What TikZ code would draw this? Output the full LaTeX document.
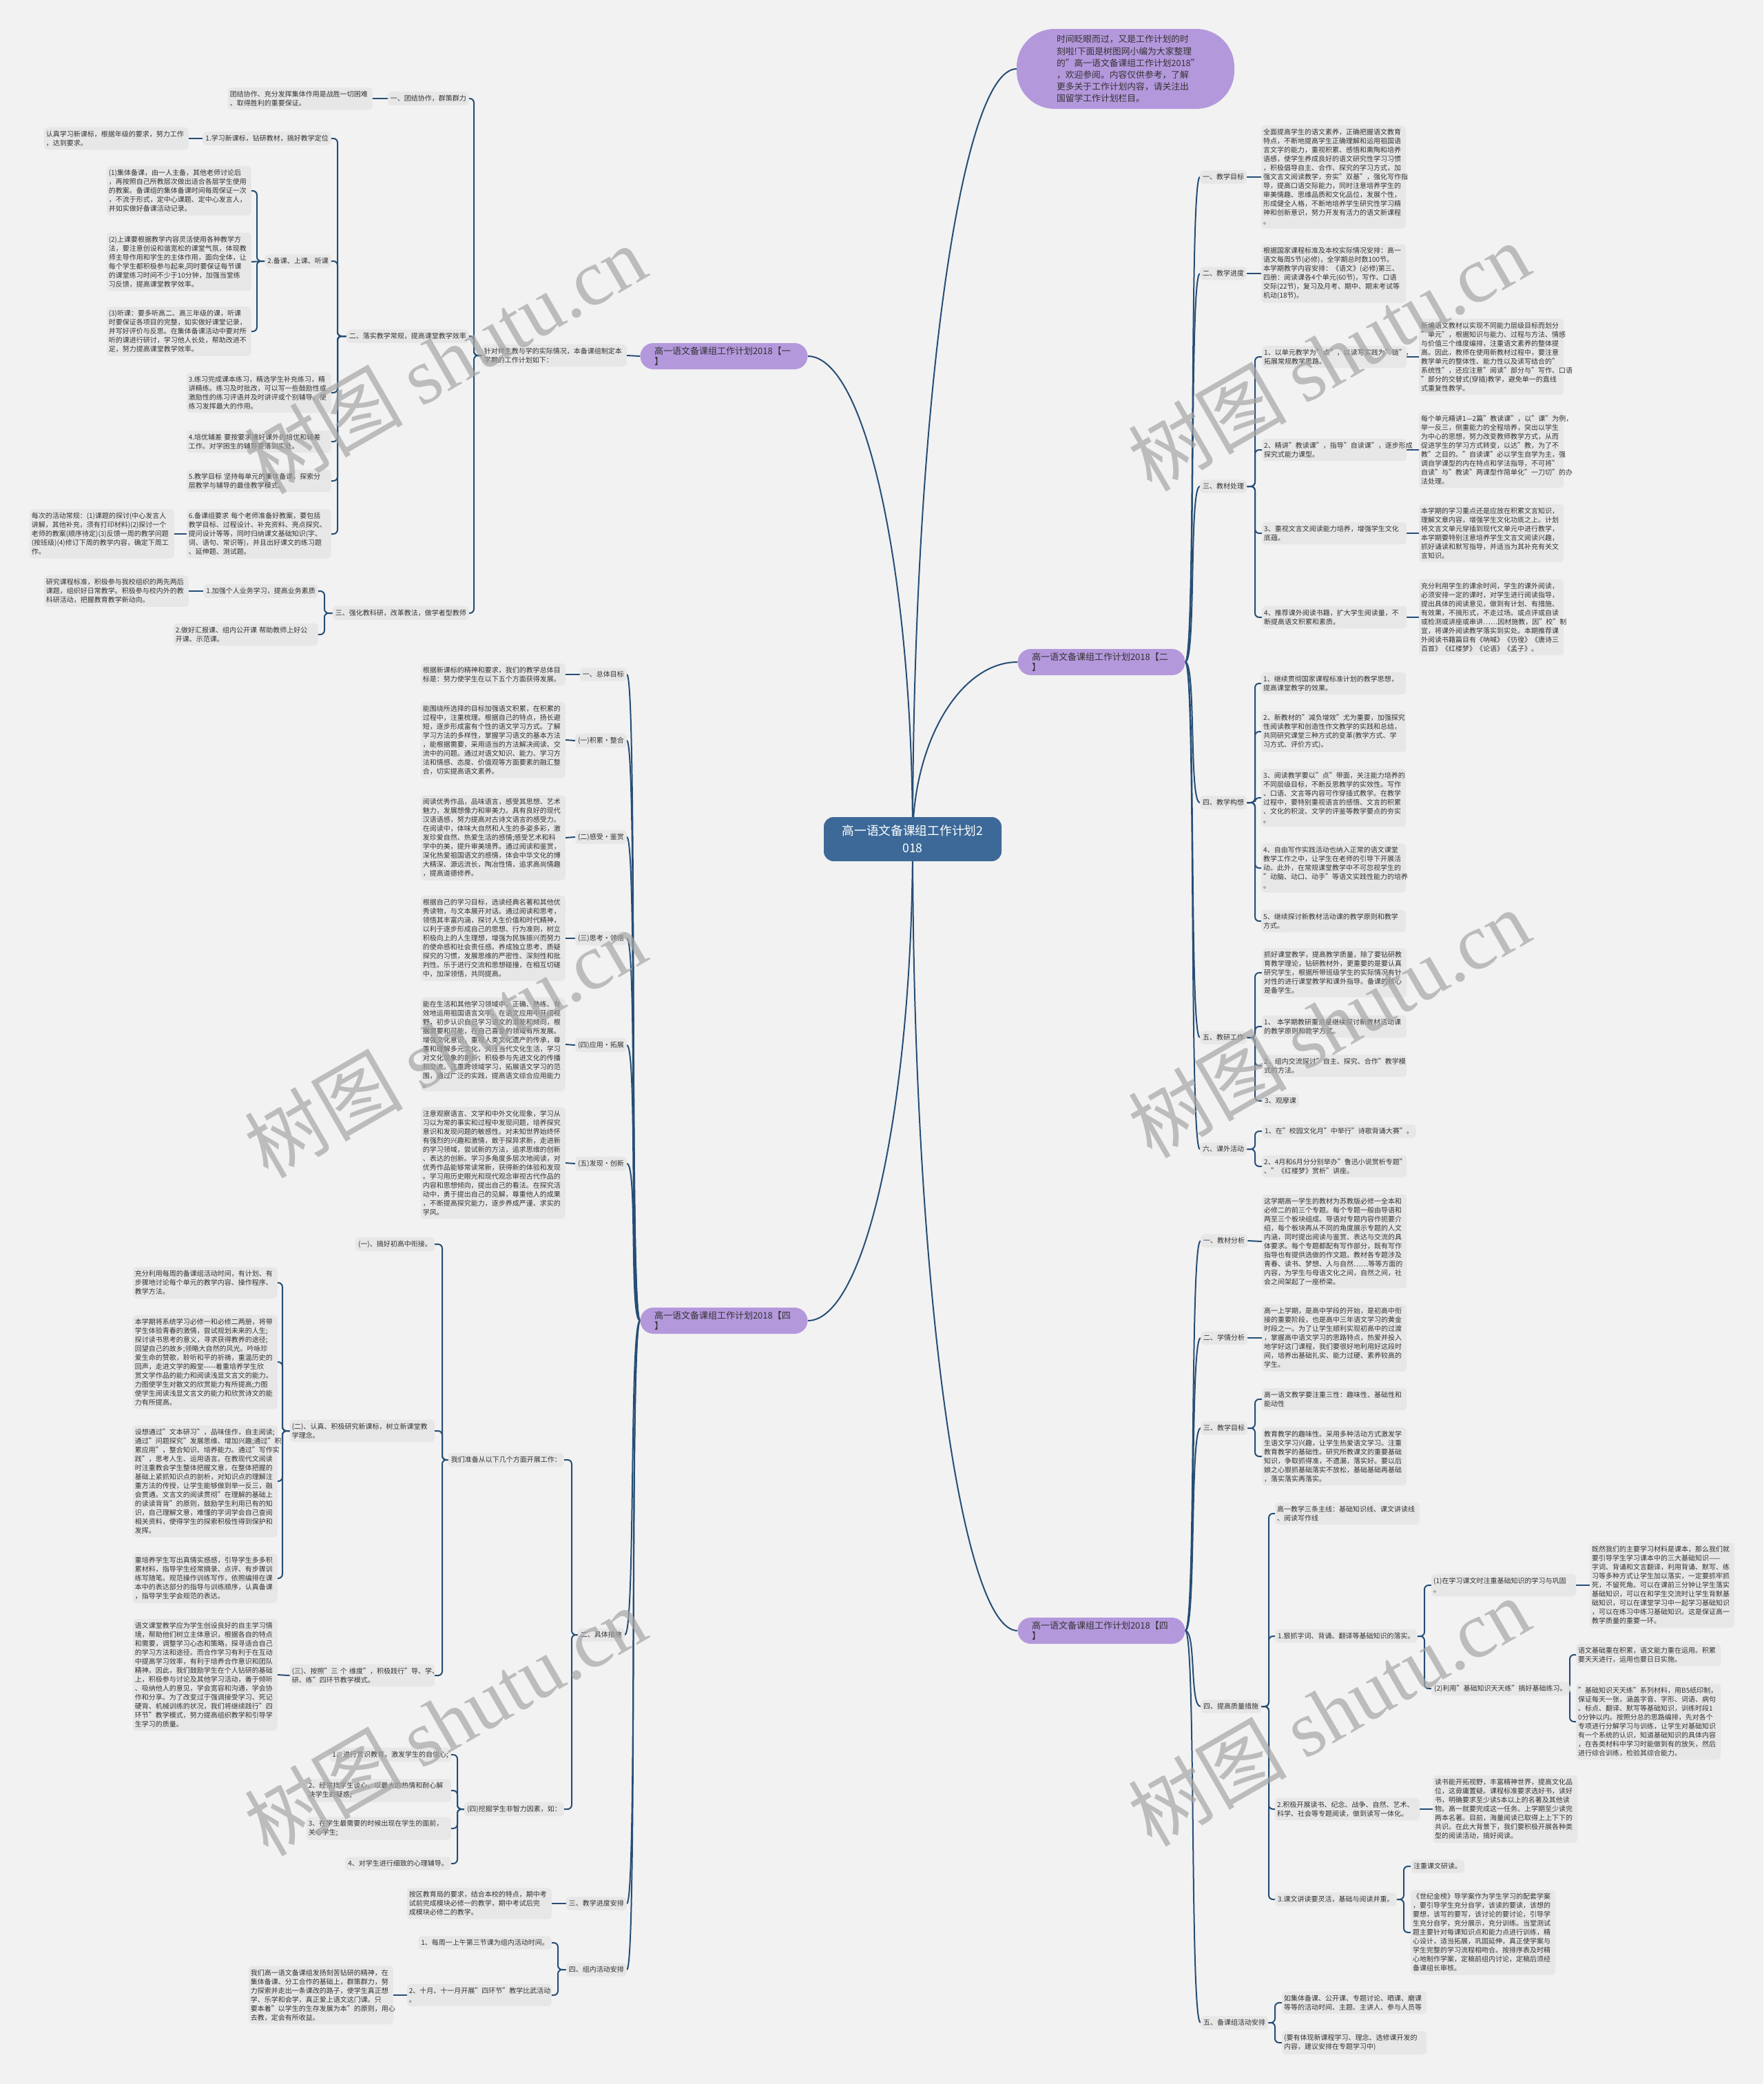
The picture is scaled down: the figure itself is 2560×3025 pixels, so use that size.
\documentclass[tikz,border=0pt]{standalone}
\usepackage{fontspec}
\setmainfont{Noto Sans CJK SC}
\newfontfamily\wmserif{Liberation Serif}
\definecolor{bgc}{RGB}{242,242,242}
\definecolor{boxc}{RGB}{231,231,231}
\definecolor{linec}{RGB}{38,78,118}
\definecolor{purpc}{RGB}{180,152,220}
\definecolor{ctrc}{RGB}{60,105,152}
\definecolor{txt}{RGB}{51,51,51}
\pgfdeclarelayer{back}\pgfdeclarelayer{bg}\pgfsetlayers{back,bg,main}
\newcommand\fs{\fontsize{10pt}{13pt}\selectfont}
\tikzset{
 tbox/.style={fill=boxc, rounded corners=5pt, inner xsep=3pt, inner ysep=5pt, font=\fs, text=txt},
 lab/.style={tbox, inner xsep=4pt},
 leaf/.style={tbox, text width=204pt, align=left},
 lft/.style={anchor=east}, rgt/.style={anchor=west},
 conn/.style={draw=linec, line width=2pt, rounded corners=6pt},
 purpnode/.style={fill=purpc, rounded corners=19pt, text width=202pt, align=left, minimum width=243pt, minimum height=38pt, inner xsep=20.5pt, inner ysep=4pt, font=\fontsize{13pt}{15.5pt}\selectfont, text=txt},
 wm/.style={rotate=30, text=black!35, text opacity=0.7, font=\fontsize{115pt}{120pt}\selectfont},
}
\newcommand\EL[3]{\draw[conn] (#1.west) -- (#1.west -| #3) |- (#2.east);}
\newcommand\ER[3]{\draw[conn] (#1.east) -- (#1.east -| #3) |- (#2.west);}
\newcommand\HL[2]{\draw[conn] (#1.west) -- (#2.east);}
\newcommand\HR[2]{\draw[conn] (#1.east) -- (#2.west);}
\newcommand\CL[2]{\draw[conn] (#1.west) .. controls +(-16,0) and +(16,0) .. (#2.east);}
\newcommand\CR[2]{\draw[conn] (#1.east) .. controls +(16,0) and +(-16,0) .. (#2.west);}
\begin{document}
\begin{tikzpicture}[x=1pt,y=-1pt]
\path[use as bounding box] (0,0) rectangle (2560,3025);
\begin{pgfonlayer}{back}
\fill[bgc] (0,0) rectangle (2560,3025);
\end{pgfonlayer}
% ---------- center and intro
\node[fill=ctrc, rounded corners=14pt, minimum width=258pt, minimum height=64pt, align=center, text=white, font=\fontsize{17.7pt}{25pt}\selectfont] (ctr) at (1325,1218) {高一语文备课组工作计划2\\018};
\node[fill=purpc, rounded corners=55pt, minimum width=316pt, minimum height=116pt, text width=200pt, align=left, text=txt, font=\fontsize{12.8pt}{17.2pt}\selectfont] (intro) at (1634,100) {时间眨眼而过，又是工作计划的时\\刻啦!下面是树图网小编为大家整理\\的"高一语文备课组工作计划2018"\\，欢迎参阅。内容仅供参考，了解\\更多关于工作计划内容，请关注出\\国留学工作计划栏目。};
\node[purpnode] (b1) at (1051,517) {高一语文备课组工作计划2018【一\\】};
\node[purpnode] (b2) at (1599,961) {高一语文备课组工作计划2018【二\\】};
\node[purpnode] (b4l) at (1051,1917) {高一语文备课组工作计划2018【四\\】};
\node[purpnode] (b4r) at (1599,2367) {高一语文备课组工作计划2018【四\\】};
% ---------- branch 1 (left top)
\coordinate (T1) at (688,0);\coordinate (T1b) at (490,0);\coordinate (T1c) at (373,0);\coordinate (T1d) at (471,0);
\node[leaf,lft] (n1) at (910,516) {针对师生教与学的实际情况，本备课组制定本\\学期的工作计划如下：};
\node[lab,lft] (c1) at (681,143) {一、团结协作，群策群力};
\node[leaf,lft] (a1) at (541,143) {团结协作、充分发挥集体作用是战胜一切困难\\、取得胜利的重要保证。};
\node[lab,lft] (c2) at (681,488) {二、落实教学常规，提高课堂教学效率};
\node[lab,lft] (s1) at (481,201) {1.学习新课标，钻研教材，搞好教学定位};
\node[leaf,lft] (s1a) at (274,201) {认真学习新课标，根据年级的要求，努力工作\\，达到要求。};
\node[lab,lft] (s2) at (481,379) {2.备课、上课、听课};
\node[leaf,lft] (s2a) at (365,277) {(1)集体备课，由一人主备，其他老师讨论后\\，再按照自己所教层次做出适合各层学生使用\\的教案。备课组的集体备课时间每周保证一次\\，不流于形式，定中心课题、定中心发言人，\\并如实做好备课活动记录。};
\node[leaf,lft] (s2b) at (365,380) {(2)上课要根据教学内容灵活使用各种教学方\\法，要注意创设和谐宽松的课堂气氛，体现教\\师主导作用和学生的主体作用，面向全体，让\\每个学生都积极参与起来,同时要保证每节课\\的课堂练习时间不少于10分钟，加强当堂练\\习反馈，提高课堂教学效率。};
\node[leaf,lft] (s2c) at (365,481) {(3)听课：要多听高二、高三年级的课，听课\\时要保证各项目的完整，如实做好课堂记录，\\并写好评价与反思。在集体备课活动中要对所\\听的课进行研讨，学习他人长处，帮助改进不\\足，努力提高课堂教学效率。};
\node[leaf,lft] (s3) at (481,570) {3.练习完成课本练习，精选学生补充练习，精\\讲精练。练习及时批改，可以写一些鼓励性或\\激励性的练习评语并及时讲评或个别辅导，使\\练习发挥最大的作用。};
\node[leaf,lft] (s4) at (481,641) {4.培优辅差~要按要求搞好课外的培优和辅差\\工作。对学困生的辅导要落到实处。};
\node[leaf,lft] (s5) at (481,698) {5.教学目标~坚持每单元的集体备课，探索分\\层教学与辅导的最佳教学模式。};
\node[leaf,lft] (s6) at (481,775) {6.备课组要求~每个老师准备好教案，要包括\\教学目标、过程设计、补充资料、亮点探究、\\提问设计等等，同时归纳课文基础知识(字、\\词、语句、常识等)，并且出好课文的练习题\\、延伸题、测试题。};
\node[leaf,lft] (s6a) at (253,775) {每次的活动常规：(1)课题的探讨(中心发言人\\讲解，其他补充，须有打印材料)(2)探讨一个\\老师的教案(顺序待定)(3)反馈一周的教学问题\\(按班级)(4)修订下周的教学内容，确定下周工\\作。};
\node[lab,lft] (c3) at (681,890) {三、强化教科研，改革教法，做学者型教师};
\node[lab,lft] (t1) at (462,858) {1.加强个人业务学习，提高业务素质};
\node[leaf,lft] (t1a) at (274,858) {研究课程标准，积极参与我校组织的两先两后\\课题，组织好日常教学。积极参与校内外的教\\科研活动，把握教育教学新动向。};
\node[leaf,lft] (t2) at (462,921) {2.做好汇报课、组内公开课~帮助教师上好公\\开课、示范课。};
% ---------- branch 2 (right top)
\coordinate (X2) at (1822,0);
\node[lab,rgt] (d1) at (1742,257) {一、教学目标};
\node[leaf,rgt] (d1a) at (1831,257) {全面提高学生的语文素养，正确把握语文教育\\特点，不断地提高学生正确理解和运用祖国语\\言文字的能力，重视积累、感悟和熏陶和培养\\语感，使学生养成良好的语文研究性学习习惯\\，积极倡导自主、合作、探究的学习方式，加\\强文言文阅读教学，夯实"双基"，强化写作指\\导，提高口语交际能力，同时注意培养学生的\\审美情趣、思维品质和文化品位，发展个性，\\形成健全人格，不断地培养学生研究性学习精\\神和创新意识，努力开发有活力的语文新课程\\。};
\node[lab,rgt] (d2) at (1742,397) {二、教学进度};
\node[leaf,rgt] (d2a) at (1831,397) {根据国家课程标准及本校实际情况安排：高一\\语文每周5节(必修)，全学期总时数100节。\\本学期教学内容安排：《语文》(必修)第三、\\四册：阅读课各4个单元(60节)，写作、口语\\交际(22节)，复习及月考、期中、期末考试等\\机动(18节)。};
\node[lab,rgt] (d3) at (1742,706) {三、教材处理};
\node[leaf,rgt] (e1) at (1832,518) {1、以单元教学为"点"，以读写实践为"链"，\\拓展常规教学思路。};
\node[leaf,rgt] (e1a) at (2060,518) {新编语文教材以实现不同能力层级目标而划分\\"单元"，根据知识与能力、过程与方法、情感\\与价值三个维度编排，注重语文素养的整体提\\高。因此，教师在使用新教材过程中，要注意\\教学单元的整体性、能力性以及读写结合的"\\系统性"，还应注意"阅读"部分与"写作、口语\\"部分的交替式(穿插)教学，避免单一的直线\\式重复性教学。};
\node[leaf,rgt] (e2) at (1832,653) {2、精讲"教读课"，指导"自读课"，逐步形成\\探究式能力课型。};
\node[leaf,rgt] (e2a) at (2060,653) {\mbox{每个单元精讲1—2篇"教读课"，以"课"为例，}\\举一反三，侧重能力的全程培养，突出以学生\\为中心的思想，努力改变教师教学方式，从而\\促进学生的学习方式转变，以达"教，为了不\\教"之目的。"自读课"必以学生自学为主，强\\调自学课型的内在特点和学法指导，不可将"\\自读"与"教读"两课型作简单化"一刀切"的办\\法处理。};
\node[leaf,rgt] (e3) at (1832,774) {3、重视文言文阅读能力培养，增强学生文化\\底蕴。};
\node[leaf,rgt] (e3a) at (2060,774) {本学期的学习重点还是应放在积累文言知识，\\理解文章内容，增强学生文化功底之上。计划\\将文言文单元穿插到现代文单元中进行教学，\\本学期要特别注意培养学生文言文阅读兴趣，\\抓好诵读和默写指导，并适当为其补充有关文\\言知识。};
\node[leaf,rgt] (e4) at (1832,896) {4、推荐课外阅读书籍，扩大学生阅读量，不\\断提高语文积累和素质。};
\node[leaf,rgt] (e4a) at (2060,896) {充分利用学生的课余时间，学生的课外阅读，\\必须安排一定的课时，对学生进行阅读指导，\\提出具体的阅读意见，做到有计划、有措施、\\有效果，不搞形式，不走过场。或点评或自读\\或检测或讲座或串讲……因材施教，因"校"制\\宜，将课外阅读教学落实到实处。本期推荐课\\外阅读书籍篇目有《呐喊》《彷徨》《唐诗三\\百首》《红楼梦》《论语》《孟子》。};
\node[lab,rgt] (d4) at (1742,1165) {四、教学构想};
\node[leaf,rgt] (f1) at (1831,992) {1、继续贯彻国家课程标准计划的教学思想，\\提高课堂教学的效果。};
\node[leaf,rgt] (f2) at (1831,1062) {2、新教材的"减负增效"尤为重要，加强探究\\性阅读教学和创造性作文教学的实践和总结，\\共同研究课堂三种方式的变革(教学方式、学\\习方式、评价方式)。};
\node[leaf,rgt] (f3) at (1831,1158) {3、阅读教学要以"点"带面，关注能力培养的\\不同层级目标，不断反思教学的实效性。写作\\、口语、文言等内容可作穿插式教学。在教学\\过程中，要特别重视语言的感悟、文言的积累\\、文化的积淀、文学的评鉴等教学要点的夯实\\。};
\node[leaf,rgt] (f4) at (1831,1260) {4、自由写作实践活动也纳入正常的语文课堂\\教学工作之中，让学生在老师的引导下开展活\\动。此外，在常规课堂教学中不可忽视学生的\\"动脑、动口、动手"等语文实践性能力的培养\\。};
\node[leaf,rgt] (f5) at (1831,1337) {5、继续探讨新教材活动课的教学原则和教学\\方式。};
\node[lab,rgt] (d5) at (1742,1506) {五、教研工作};
\node[leaf,rgt] (g0) at (1832,1412) {抓好课堂教学，提高教学质量，除了要钻研教\\育教学理论，钻研教材外，更重要的是要认真\\研究学生，根据所带班级学生的实际情况有针\\对性的进行课堂教学和课外指导。备课的核心\\是备学生。};
\node[leaf,rgt] (g1) at (1832,1490) {1、~本学期教研重点是继续探讨新教材活动课\\的教学原则和教学方式。};
\node[leaf,rgt] (g2) at (1832,1547) {2、组内交流探讨"自主、探究、合作"教学模\\式的方法。};
\node[lab,rgt] (g3) at (1832,1598) {3、观摩课};
\node[lab,rgt] (d6) at (1742,1668) {六、课外活动};
\node[lab,rgt] (h1) at (1832,1642) {1、在"校园文化月"中举行"诗歌背诵大赛"。};
\node[leaf,rgt] (h2) at (1832,1693) {2、4月和6月分分别举办"鲁迅小说赏析专题"\\、"《红楼梦》赏析"讲座。};
% ---------- branch 4 (right bottom)
\coordinate (X4b) at (1842,0);\coordinate (X4c) at (2068,0);\coordinate (X4d) at (2279,0);\coordinate (X4e) at (2038,0);\coordinate (X4f) at (1851,0);
\node[lab,rgt] (k1) at (1743,1801) {一、教材分析};
\node[leaf,rgt] (k1a) at (1832,1802) {这学期高一学生的教材为苏教版必修一全本和\\必修二的前三个专题。每个专题一般由导语和\\两至三个板块组成。导语对专题内容作扼要介\\绍，每个板块再从不同的角度展示专题的人文\\内涵，同时提出阅读与鉴赏、表达与交流的具\\体要求。每个专题都配有写作部分，既有写作\\指导也有提供选做的作文题。教材各专题涉及\\青春、读书、梦想、人与自然……等等方面的\\内容，为学生与母语文化之间，自然之间，社\\会之间架起了一座桥梁。};
\node[lab,rgt] (k2) at (1743,1942) {二、学情分析};
\node[leaf,rgt] (k2a) at (1832,1942) {高一上学期，是高中学段的开始，是初高中衔\\接的重要阶段，也是高中三年语文学习的黄金\\时段之一。为了让学生顺利实现初高中的过渡\\，掌握高中语文学习的思路特点，热爱并投入\\地学好这门课程，我们要很好地利用好这段时\\间，培养出基础扎实、能力过硬、素养较高的\\学生。};
\node[lab,rgt] (k3) at (1743,2073) {三、教学目标};
\node[leaf,rgt] (k3a) at (1832,2031) {高一语文教学要注重三性：趣味性、基础性和\\能动性};
\node[leaf,rgt] (k3b) at (1832,2114) {教育教学的趣味性。采用多种活动方式激发学\\生语文学习兴趣，让学生热爱语文学习。注重\\教育教学的基础性。研究所教课文的重要基础\\知识，争取抓得准，不遗漏，落实好。要以后\\娘之心狠抓基础落实不放松，基础基础再基础\\，落实落实再落实。};
\node[lab,rgt] (k4) at (1743,2477) {四、提高质量措施};
\node[leaf,rgt] (m0) at (1851,2197) {高一教学三条主线：基础知识线、课文讲读线\\、阅读写作线};
\node[lab,rgt] (m1) at (1851,2375) {1.狠抓字词、背诵、翻译等基础知识的落实。};
\node[leaf,rgt] (m1a) at (2078,2301) {(1)在学习课文时注重基础知识的学习与巩固\\。};
\node[leaf,rgt] (m1aa) at (2308,2301) {既然我们的主要学习材料是课本，那么我们就\\\mbox{要引导学生学习课本中的三大基础知识——}\\字词、背诵和文言翻译，利用背诵、默写、练\\习等多种方式让学生加以落实，一定要抓牢抓\\死，不留死角。可以在课前三分钟让学生落实\\基础知识，可以在和学生交流时让学生背默基\\础知识，可以在课堂学习中一起学习基础知识\\，可以在练习中练习基础知识。这是保证高一\\教学质量的重要一环。};
\node[lab,rgt] (m1b) at (2078,2451) {(2)利用"基础知识天天练"搞好基础练习。};
\node[leaf,rgt] (m1ba) at (2288,2402) {语文基础重在积累，语文能力重在运用。积累\\要天天进行，运用也要日日实施。};
\node[leaf,rgt] (m1bb) at (2288,2499) {"基础知识天天练"系列材料，用B5纸印制，\\保证每天一张，涵盖字音、字形、词语、病句\\、标点、翻译、默写等基础知识，训练时段1\\0分钟以内。按照分总的思路编排，先对各个\\专项进行分解学习与训练，让学生对基础知识\\有一个系统的认识，知道基础知识的具体内容\\，在各类材料中学习时能做到有的放矢，然后\\进行综合训练，检验其综合能力。};
\node[leaf,rgt] (m2) at (1851,2626) {2.积极开展读书、纪念、战争、自然、艺术、\\科学、社会等专题阅读，做到读写一体化。};
\node[leaf,rgt] (m2a) at (2080,2626) {读书能开拓视野，丰富精神世界，提高文化品\\位，这毋庸置疑。课程标准要求选好书，读好\\书，明确要求至少读5本以上的名著及其他读\\物。高一就要完成这一任务。上学期至少读完\\两本名著。目前，海量阅读已取得上上下下的\\共识。在此大背景下，我们要积极开展各种类\\型的阅读活动，搞好阅读。};
\node[lab,rgt] (m3) at (1851,2757) {3.课文讲读要灵活，基础与阅读并重。};
\node[lab,rgt] (m3a) at (2048,2709) {注重课文研读。};
\node[leaf,rgt] (m3b) at (2048,2805) {《世纪金榜》导学案作为学生学习的配套学案\\，要引导学生充分自学，该读的要读，该想的\\要想，该写的要写，该讨论的要讨论，引导学\\生充分自学，充分展示，充分训练。当堂测试\\题主要针对每课知识点和能力点进行训练，精\\心设计，适当拓展，巩固延伸，真正使学案与\\学生完整的学习流程相吻合。按排序表及时精\\心地制作学案，定稿前组内讨论，定稿后须经\\备课组长审核。};
\node[lab,rgt] (k5) at (1743,2936) {五、备课组活动安排};
\node[leaf,rgt] (p1) at (1861,2907) {如集体备课、公开课、专题讨论、晒课、磨课\\等等的活动时间、主题、主讲人、参与人员等};
\node[leaf,rgt] (p2) at (1861,2965) {(要有体现新课程学习、理念、选修课开发的\\内容，建议安排在专题学习中)};
% ---------- branch 4 (left bottom)
\coordinate (Y5a) at (830,0);\coordinate (Y5b) at (642,0);\coordinate (Y5c) at (410,0);\coordinate (Y5d) at (664,0);\coordinate (Y5e) at (810,0);
\node[lab,lft] (q1) at (910,979) {一、总体目标};
\node[leaf,lft] (q1a) at (821,979) {根据新课标的精神和要求，我们的教学总体目\\标是：努力使学生在以下五个方面获得发展。};
\node[lab,lft] (q2) at (910,1075) {(一)积累·整合};
\node[leaf,lft] (q2a) at (821,1074) {能围绕所选择的目标加强语文积累，在积累的\\过程中，注重梳理。根据自己的特点，扬长避\\短，逐步形成富有个性的语文学习方式。了解\\学习方法的多样性，掌握学习语文的基本方法\\，能根据需要，采用适当的方法解决阅读、交\\流中的问题。通过对语文知识、能力、学习方\\法和情感、态度、价值观等方面要素的融汇整\\合，切实提高语文素养。};
\node[lab,lft] (q3) at (910,1215) {(二)感受·鉴赏};
\node[leaf,lft] (q3a) at (821,1216) {阅读优秀作品，品味语言，感受其思想、艺术\\魅力，发展想像力和审美力。具有良好的现代\\汉语语感，努力提高对古诗文语言的感受力。\\在阅读中，体味大自然和人生的多姿多彩，激\\发珍爱自然、热爱生活的感情;感受艺术和科\\学中的美，提升审美境界。通过阅读和鉴赏，\\深化热爱祖国语文的感情，体会中华文化的博\\大精深、源远流长，陶冶性情，追求高尚情趣\\，提高道德修养。};
\node[lab,lft] (q4) at (910,1362) {(三)思考·领悟};
\node[leaf,lft] (q4a) at (821,1362) {根据自己的学习目标，选读经典名著和其他优\\秀读物，与文本展开对话。通过阅读和思考，\\领悟其丰富内涵，探讨人生价值和时代精神，\\以利于逐步形成自己的思想、行为准则，树立\\积极向上的人生理想，增强为民族振兴而努力\\的使命感和社会责任感。养成独立思考、质疑\\探究的习惯，发展思维的严密性、深刻性和批\\判性。乐于进行交流和思想碰撞，在相互切磋\\中，加深领悟，共同提高。};
\node[lab,lft] (q5) at (910,1517) {(四)应用·拓展};
\node[leaf,lft] (q5a) at (821,1516) {能在生活和其他学习领域中，正确、熟练、有\\效地运用祖国语言文字。在语文应用中开阔视\\野，初步认识自己学习语文的潜能和倾向，根\\据需要和可能，在自己喜爱的领域有所发展。\\增强文化意识，重视人类文化遗产的传承，尊\\重和理解多元文化，关注当代文化生活，学习\\对文化现象的剖析，积极参与先进文化的传播\\和交流。注重跨领域学习，拓展语文学习的范\\围，通过广泛的实践，提高语文综合应用能力\\。};
\node[lab,lft] (q6) at (910,1689) {(五)发现·创新};
\node[leaf,lft] (q6a) at (821,1688) {注意观察语言、文学和中外文化现象，学习从\\习以为常的事实和过程中发现问题，培养探究\\意识和发现问题的敏感性。对未知世界始终怀\\有强烈的兴趣和激情，敢于探异求新，走进新\\的学习领域，尝试新的方法，追求思维的创新\\、表达的创新。学习多角度多层次地阅读，对\\优秀作品能够常读常新，获得新的体验和发现\\。学习用历史眼光和现代观念审视古代作品的\\内容和思想倾向，提出自己的看法。在探究活\\动中，勇于提出自己的见解，尊重他人的成果\\，不断提高探究能力，逐步养成严谨、求实的\\学风。};
\node[lab,lft] (q7) at (907,2373) {二、具体措施};
\node[lab,lft] (r1) at (819,2119) {我们准备从以下几个方面开展工作：};
\node[lab,lft] (r1a) at (631,1806) {(一)、搞好初高中衔接。};
\node[leaf,lft] (r1b) at (631,2077) {(二)、认真、积极研究新课标，树立新课堂教\\学理念。};
\node[leaf,lft] (v1) at (403,1862) {充分利用每周的备课组活动时间，有计划、有\\步骤地讨论每个单元的教学内容、操作程序、\\教学方法。};
\node[leaf,lft] (v2) at (403,1977) {本学期将系统学习必修一和必修二两册，将带\\学生体验青春的激情，尝试规划未来的人生;\\探讨读书思考的意义，寻求获得教养的途径;\\回望自己的故乡;领略大自然的风光。吟咏珍\\爱生命的赞歌，聆听和平的祈祷，重温历史的\\\mbox{回声，走进文学的殿堂-{}-{}-{}-{}-着重培养学生欣}\\赏文学作品的能力和阅读浅显文言文的能力。\\力图使学生对散文的欣赏能力有所提高;力图\\使学生阅读浅显文言文的能力和欣赏诗文的能\\力有所提高。};
\node[leaf,lft] (v3) at (403,2150) {设想通过"文本研习"，品味佳作，自主阅读;\\通过"问题探究"发展思维、增加兴趣;通过"积\\累应用"，整合知识、培养能力。通过"写作实\\践"，思考人生、运用语言。在教现代文阅读\\时注重教会学生整体把握文意，在整体把握的\\基础上紧抓知识点的剖析，对知识点的理解注\\重方法的传授，让学生能够做到举一反三，融\\会贯通。文言文的阅读贯彻"在理解的基础上\\的读读背背"的原则，鼓励学生利用已有的知\\识，自己理解文意，难懂的字词学会自己查阅\\相关资料，使得学生的探索积极性得到保护和\\发挥。};
\node[leaf,lft] (v4) at (403,2291) {重培养学生写出真情实感感，引导学生多多积\\累材料，指导学生经常摘录、点评、有步骤训\\练写随笔。规范操作训练写作，依照编排在课\\本中的表达部分的指导与训练顺序，认真备课\\，指导学生学会规范的表达。};
\node[leaf,lft] (r1c) at (631,2432) {(三)、按照"三~个~维度"，积极践行"导、学、\\研、练"四环节教学模式。};
\node[leaf,lft] (v5) at (403,2431) {语文课堂教学应为学生创设良好的自主学习情\\境，帮助他们树立主体意识，根据各自的特点\\和需要，调整学习心态和策略，探寻适合自己\\的学习方法和途径。而合作学习有利于在互动\\中提高学习效率，有利于培养合作意识和团队\\精神。因此，我们鼓励学生在个人钻研的基础\\上，积极参与讨论及其他学习活动，善于倾听\\、吸纳他人的意见，学会宽容和沟通，学会协\\作和分享。为了改变过于强调接受学习、死记\\硬背、机械训练的状况，我们将继续践行"四\\环节"教学模式，努力提高组织教学和引导学\\生学习的质量。};
\node[lab,lft] (r2) at (819,2626) {(四)挖掘学生非智力因素，如：};
\node[lab,lft] (r2a) at (655,2547) {1、进行赏识教育，激发学生的自信心;};
\node[leaf,lft] (r2b) at (655,2599) {2、经常找学生谈心，以最大的热情和耐心解\\决学生的疑惑;};
\node[leaf,lft] (r2c) at (655,2654) {3、在学生最需要的时候出现在学生的面前，\\关心学生;};
\node[lab,lft] (r2d) at (655,2705) {4、对学生进行细致的心理辅导。};
\node[lab,lft] (q8) at (910,2763) {三、教学进度安排};
\node[leaf,lft] (q8a) at (801,2763) {按区教育局的要求，结合本校的特点，期中考\\试前完成模块必修一的教学，期中考试后完\\成模块必修二的教学。};
\node[lab,lft] (q9) at (910,2859) {四、组内活动安排};
\node[lab,lft] (u1) at (801,2820) {1、每周一上午第三节课为组内活动时间。};
\node[leaf,lft] (u2) at (801,2896) {2、十月、十一月开展"四环节"教学比武活动\\。};
\node[leaf,lft] (u2a) at (571,2896) {我们高一语文备课组发扬刻苦钻研的精神，在\\集体备课、分工合作的基础上，群策群力，努\\力探索并走出一条课改的路子，使学生真正想\\学、乐学和会学，真正爱上语文这门课。只\\要本着"以学生的生存发展为本"的原则，用心\\去教，定会有所收益。};
% ---------- connectors
\begin{pgfonlayer}{bg}
\draw[conn] (ctr.center) .. controls (1325,832) and (1257,517) .. (b1.east);
\draw[conn] (ctr.center) .. controls (1325,603) and (1394,100) .. (intro.west);
\draw[conn] (ctr.center) .. controls (1325,1077) and (1394,961) .. (b2.west);
\draw[conn] (ctr.center) .. controls (1325,1602) and (1257,1917) .. (b4l.east);
\draw[conn] (ctr.center) .. controls (1325,1850) and (1394,2367) .. (b4r.west);
% branch 1
\HL{b1}{n1}
\EL{n1}{c1}{T1}\EL{n1}{c2}{T1}\EL{n1}{c3}{T1}
\HL{c1}{a1}
\EL{c2}{s1}{T1b}\EL{c2}{s2}{T1b}\EL{c2}{s3}{T1b}\EL{c2}{s4}{T1b}\EL{c2}{s5}{T1b}\EL{c2}{s6}{T1b}
\HL{s1}{s1a}
\EL{s2}{s2a}{T1c}\HL{s2}{s2b}\EL{s2}{s2c}{T1c}
\HL{s6}{s6a}
\EL{c3}{t1}{T1d}\EL{c3}{t2}{T1d}
\HL{t1}{t1a}
% branch 2
\CR{b2}{d1}\CR{b2}{d2}\CR{b2}{d3}\CR{b2}{d4}\CR{b2}{d5}\CR{b2}{d6}
\HR{d1}{d1a}\HR{d2}{d2a}
\ER{d3}{e1}{X2}\ER{d3}{e2}{X2}\ER{d3}{e3}{X2}\ER{d3}{e4}{X2}
\HR{e1}{e1a}\HR{e2}{e2a}\HR{e3}{e3a}\HR{e4}{e4a}
\ER{d4}{f1}{X2}\ER{d4}{f2}{X2}\ER{d4}{f3}{X2}\ER{d4}{f4}{X2}\ER{d4}{f5}{X2}
\ER{d5}{g0}{X2}\ER{d5}{g1}{X2}\ER{d5}{g2}{X2}\ER{d5}{g3}{X2}
\ER{d6}{h1}{X2}\ER{d6}{h2}{X2}
% branch 4 right
\CR{b4r}{k1}\CR{b4r}{k2}\CR{b4r}{k3}\CR{b4r}{k4}\CR{b4r}{k5}
\HR{k1}{k1a}\HR{k2}{k2a}
\ER{k3}{k3a}{X2}\ER{k3}{k3b}{X2}
\ER{k4}{m0}{X4b}\ER{k4}{m1}{X4b}\ER{k4}{m2}{X4b}\ER{k4}{m3}{X4b}
\ER{m1}{m1a}{X4c}\ER{m1}{m1b}{X4c}
\HR{m1a}{m1aa}
\ER{m1b}{m1ba}{X4d}\ER{m1b}{m1bb}{X4d}
\HR{m2}{m2a}
\ER{m3}{m3a}{X4e}\ER{m3}{m3b}{X4e}
\ER{k5}{p1}{X4f}\ER{k5}{p2}{X4f}
% branch 4 left
\CL{b4l}{q1}\CL{b4l}{q2}\CL{b4l}{q3}\CL{b4l}{q4}\CL{b4l}{q5}\CL{b4l}{q6}\CL{b4l}{q7}\CL{b4l}{q8}\CL{b4l}{q9}
\HL{q1}{q1a}\HL{q2}{q2a}\HL{q3}{q3a}\HL{q4}{q4a}\HL{q5}{q5a}\HL{q6}{q6a}
\EL{q7}{r1}{Y5a}\EL{q7}{r2}{Y5a}
\EL{r1}{r1a}{Y5b}\EL{r1}{r1b}{Y5b}\EL{r1}{r1c}{Y5b}
\EL{r1b}{v1}{Y5c}\EL{r1b}{v2}{Y5c}\EL{r1b}{v3}{Y5c}\EL{r1b}{v4}{Y5c}
\HL{r1c}{v5}
\EL{r2}{r2a}{Y5d}\EL{r2}{r2b}{Y5d}\EL{r2}{r2c}{Y5d}\EL{r2}{r2d}{Y5d}
\HL{q8}{q8a}
\EL{q9}{u1}{Y5e}\EL{q9}{u2}{Y5e}
\HL{u2}{u2a}
\end{pgfonlayer}
% ---------- watermarks
\node[wm] (w1) at (646,521) {树图 {\wmserif shutu.cn}};
\node[wm] (w2) at (1929,517) {树图 {\wmserif shutu.cn}};
\node[wm] (w3) at (646,1514) {树图 {\wmserif shutu.cn}};
\node[wm] (w4) at (1929,1485) {树图 {\wmserif shutu.cn}};
\node[wm] (w5) at (646,2498) {树图 {\wmserif shutu.cn}};
\node[wm] (w6) at (1929,2484) {树图 {\wmserif shutu.cn}};
\end{tikzpicture}
\end{document}
